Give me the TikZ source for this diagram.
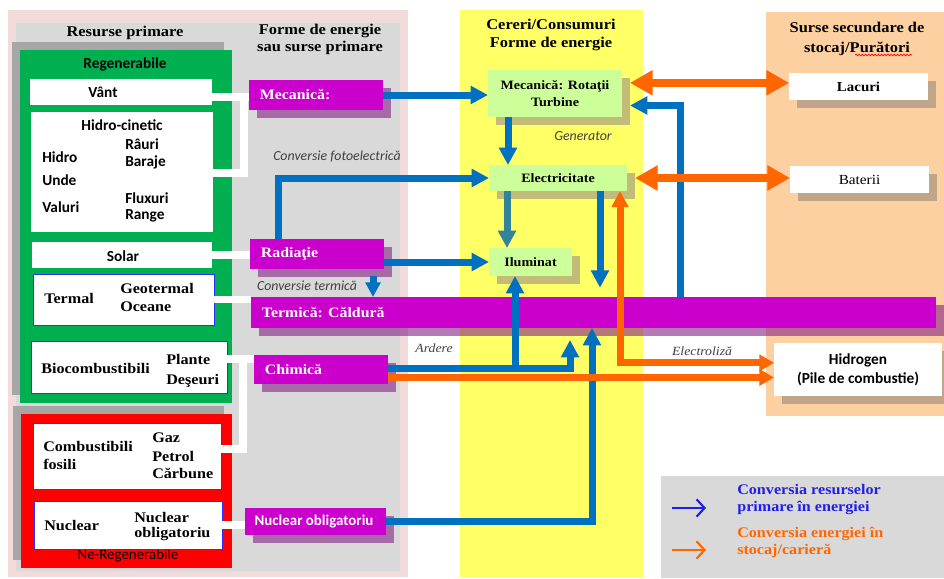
\documentclass[tikz,border=0pt]{standalone}
\usepackage{fontspec}
\setmainfont{Liberation Serif}[FakeStretch=1.1]
\newfontfamily\calibfont{Carlito}
\usetikzlibrary{arrows.meta,fit,shadows,decorations.pathmorphing}

\definecolor{bgpink}{HTML}{F2DCDB}
\definecolor{bggray}{HTML}{D9D9D9}
\definecolor{shgray}{HTML}{A6A6A6}
\definecolor{regen}{HTML}{00B050}
\definecolor{magbox}{HTML}{CC00CC}
\definecolor{shmag}{HTML}{842084}
\definecolor{consum}{HTML}{FFFF66}
\definecolor{lgreen}{HTML}{CCFF99}
\definecolor{sholive}{HTML}{C2BC78}
\definecolor{peach}{HTML}{FCD0A0}
\definecolor{shtan}{HTML}{BFA58A}
\definecolor{arrblue}{HTML}{0070C0}
\definecolor{arrteal}{HTML}{31849B}
\definecolor{arrorange}{HTML}{FF6600}
\definecolor{labgray}{HTML}{404040}
\definecolor{legblue}{HTML}{1F1FE8}
\definecolor{framebl}{HTML}{2E2EFF}

\begin{document}
\begin{tikzpicture}[x=0.75pt,y=-0.75pt,
    panel/.style={inner sep=0pt, outer sep=0pt},
    src/.style={panel, fill=white},
    srcframe/.style={src, draw=framebl, line width=0.7pt},
    form/.style={panel, fill=magbox, drop shadow={shadow xshift=6pt, shadow yshift=-6pt, fill=shmag, opacity=.6}},
    demand/.style={panel, fill=lgreen, drop shadow={shadow xshift=6pt, shadow yshift=-6pt, fill=sholive, opacity=1}},
    storebox/.style={panel, fill=white, drop shadow={shadow xshift=6pt, shadow yshift=-6pt, fill=shtan, opacity=1}},
    txt/.style={inner sep=0pt},
    head/.style={txt, align=center, font=\bfseries\fontsize{11.2}{13}\selectfont},
    demtxt/.style={txt, align=center, font=\bfseries\fontsize{9.6}{12.5}\selectfont},
    srb/.style={txt, font=\bfseries\fontsize{11}{13}\selectfont},
    cab/.style={txt, font=\calibfont\bfseries\fontsize{11.5}{14}\selectfont},
    formtxt/.style={txt, white, font=\bfseries\fontsize{10.8}{13}\selectfont},
    note/.style={txt, labgray, font=\calibfont\itshape\fontsize{10.4}{12}\selectfont},
    snote/.style={txt, labgray, font=\itshape\fontsize{9.4}{12}\selectfont},
    wline/.style={white, line width=5.5pt},
    flow/.style={arrblue, line width=5.25pt, -{Triangle[length=13pt,width=13pt]}},
    store/.style={arrorange, line width=6pt, {Triangle[length=17pt,width=18pt]}-{Triangle[length=17pt,width=18pt]}},
    split/.style={arrorange, line width=5.25pt, -{Triangle[length=11pt,width=12pt]}},
    splitboth/.style={arrorange, line width=5.25pt, {Triangle[length=12pt,width=12pt]}-{Triangle[length=11pt,width=12pt]}},
    legarrow/.style={line width=1.6pt, -{Straight Barb[length=6pt,width=13pt]}},
]
\useasboundingbox (0,0) rectangle (944,578);

% columns
\node[panel, fill=bgpink, fit={(8,10) (408,577)}] (colpink) {};
\node[panel, fill=bggray, fit={(16,23) (400,571)}] (colgray) {};
\node[panel, fill=consum, fit={(460,10) (643,577)}] (colcons) {};
\node[panel, fill=peach, fit={(766,12) (944,416)}] (colstore) {};
\node[panel, fill=bggray, fit={(661,476) (944,578)}] (legend) {};

\node[head] (hres) at (125,33) {Resurse primare};
\node[head, font=\bfseries\fontsize{11.2}{12.75}\selectfont] (hforme) at (320,39.5) {Forme de energie\\sau\ surse primare};
\node[head, font=\bfseries\fontsize{11.2}{13.5}\selectfont] (hcons) at (551,34.5) {Cereri/Consumuri\\Forme de energie};
\node[head, font=\bfseries\fontsize{11.2}{15}\selectfont] (hstore) at (857,38.5) {Surse secundare de\\stocaj/Purători};
\draw[red, line width=0.5pt, decorate, decoration={snake, amplitude=0.6pt, segment length=2.4pt}] (855,55) -- (912,55);

% primary resources
\node[panel, fill=regen, fit={(20,50) (232,403)}, drop shadow={shadow xshift=-6pt, shadow yshift=6pt, fill=shgray, opacity=1}] (regen) {};
\node[panel, fill=red, fit={(21,414) (232,568)}, drop shadow={shadow xshift=-6pt, shadow yshift=6pt, fill=shgray, opacity=1}] (neregen) {};
\node[cab] (tregen) at (125,64) {Regenerabile};
\node[txt, font=\calibfont\fontsize{11.2}{14}\selectfont] (tneregen) at (128,556) {Ne-Regenerabile};

\node[src, fit={(30,79) (212,105)}] (vant) {};
\node[src, fit={(31,112) (213,232)}] (hid) {};
\node[src, fit={(32,242) (212,268)}] (sol) {};
\node[srcframe, fit={(33,274) (214,325)}] (ter) {};
\node[srcframe, fit={(31,341) (227,393)}] (bio) {};
\node[srcframe, fit={(33,423) (221,489)}] (fos) {};
\node[srcframe, fit={(34,501) (222,549)}] (nuc) {};

\node[cab] (tvant) at (103,92) {Vânt};
\node[cab] (thid) at (122,125) {Hidro-cinetic};
\node[cab, anchor=west] (thidro) at (42,157) {Hidro};
\node[cab, anchor=west] (tunde) at (42,180) {Unde};
\node[cab, anchor=west] (tval) at (42,207) {Valuri};
\node[cab, anchor=west] (trau) at (125,144) {Râuri};
\node[cab, anchor=west] (tbar) at (125,162) {Baraje};
\node[cab, anchor=west] (tflux) at (125,198) {Fluxuri};
\node[cab, anchor=west] (trange) at (125,216) {Range};
\node[cab] (tsol) at (123,256) {Solar};
\node[srb, anchor=west] (tter) at (44,298) {Termal};
\node[srb, anchor=west] (tgeo) at (120,288) {Geotermal};
\node[srb, anchor=west] (toce) at (120,307) {Oceane};
\node[srb, anchor=west] (tbio) at (41,368) {Biocombustibili};
\node[srb, anchor=west] (tpla) at (166,359) {Plante};
\node[srb, anchor=west] (tdes) at (166,381) {Deşeuri};
\node[srb, anchor=west] (tcomb) at (43,446) {Combustibili};
\node[srb, anchor=west] (tfos) at (43,464) {fosili};
\node[srb, anchor=west] (tgaz) at (152,438) {Gaz};
\node[srb, anchor=west] (tpet) at (152,456) {Petrol};
\node[srb, anchor=west] (tcar) at (152,473) {Cărbune};
\node[srb, anchor=west] (tnuc) at (44,525) {Nuclear};
\node[srb, anchor=west] (tnuc2) at (134,517) {Nuclear};
\node[srb, anchor=west] (tobl) at (134,534) {obligatoriu};

% energy forms
\node[form, fit={(249,80) (383,110)}] (mec) {};
\node[form, fit={(250,239) (384,269)}] (rad) {};
\node[form, fit={(254,355) (388,384)}] (chim) {};
\node[form, fit={(245,508) (386,535)}] (nob) {};

\coordinate (jvant) at (244,97);
\coordinate (jhid) at (244,173);
\coordinate (jbio) at (243,359);
\coordinate (jfos) at (243,449);
\draw[wline] (vant.east |- jvant) -- (mec.west |- jvant);
\draw[wline] (jhid -| hid.east) -- (jhid) -- (jvant);
\draw[wline] (sol.east) -- (rad.west |- sol.east);
\draw[wline] (bio.east |- jbio) -- (chim.west |- jbio);
\draw[wline] (jfos -| fos.east) -- (jfos) -- (jbio);
\draw[wline] (nuc.east) -- (nob.west |- nuc.east);

\node[form, fit={(251,297) (936,328)}] (term) {};
\draw[wline] (ter.east) -- (term.west |- ter.east);

\node[formtxt, anchor=west] (tmec) at ([xshift=8pt]mec.west) {Mecanică:};
\node[formtxt, anchor=west] (trad) at ([xshift=8pt]rad.west) {Radiaţie};
\node[formtxt, anchor=west] (tterm) at ([xshift=8pt]term.west) {Termică: Căldură};
\node[formtxt, anchor=west] (tchim) at ([xshift=8pt]chim.west) {Chimică};
\node[formtxt, anchor=west, font=\calibfont\bfseries\fontsize{11.2}{13}\selectfont] (tnob) at ([xshift=7pt]nob.west) {Nuclear obligatoriu};

% demands and storage
\node[demand, fit={(488,70) (622,117)}] (rot) {};
\node[demand, fit={(489,165) (627,191)}] (elec) {};
\node[demand, fit={(489,248) (572,276)}] (ilum) {};
\node[demtxt] (trot) at (rot.center) {Mecanică: Rotaţii\\Turbine};
\node[demtxt] (telec) at (elec.center) {Electricitate};
\node[demtxt] (tilum) at (ilum.center) {Iluminat};

\node[storebox, fit={(789,73) (928,100)}] (lac) {};
\node[storebox, fit={(790,166) (929,193)}] (bat) {};
\node[storebox, fit={(774,343) (942,396)}] (hyd) {};
\node[txt, font=\bfseries\fontsize{10.2}{13}\selectfont] (tlac) at (lac.center) {Lacuri};
\node[txt, font=\fontsize{10.4}{13}\selectfont] (tbat) at (bat.center) {Baterii};
\node[txt, align=center, font=\calibfont\bfseries\fontsize{11.5}{14}\selectfont] (thyd) at (hyd.center) {Hidrogen\\(Pile de combustie)};

% blue conversions
\draw[flow] (mec.east) -- (mec.east -| rot.west);
\draw[flow] (rad.north -| 278,0) |- (elec.west);
\draw[flow] (ilum.west -| rad.east) -- (ilum.west);
\coordinate (ctherm) at (373,276);
\draw[flow, -{Triangle[length=11pt,width=11pt]}] (ctherm) -- (ctherm |- term.north);
\draw[flow] (rot.south -| 508,0) -- (elec.north -| 508,0);
\draw[flow, arrteal] (elec.south -| 507,0) -- (ilum.north -| 507,0);
\draw[flow, shorten >=7pt] (elec.south -| 600,0) -- (term.north -| 600,0);
\coordinate (jrot) at ([xshift=6pt,yshift=-9pt]rot.east);
\draw[flow] (term.north -| 680,0) |- (jrot);
\coordinate (jchim) at ([yshift=1pt]chim.east);
\draw[flow, shorten >=9pt] (jchim) -| (term.south -| 570,0);
\draw[flow] (jchim -| 515,0) -- (ilum.south -| 515,0);
\draw[flow] (nob.east) -| (term.south -| 592,0);

% orange storage
\coordinate (jlac) at ([xshift=6pt,yshift=8pt]rot.east);
\draw[store] (jlac) -- (jlac -| lac.west);
\draw[store] ([xshift=6pt]elec.east) -- (elec.east -| bat.west);
\coordinate (jhyd) at ([yshift=5pt]hyd.west);
\draw[splitboth] (elec.south -| 620,0) |- (jhyd);
\coordinate (jchim2) at ([yshift=-6pt]chim.east);
\draw[split] (jchim2) -- (jchim2 -| hyd.west);

% labels
\node[note] (lfoto) at (337,156) {Conversie fotoelectrică};
\node[note] (lterm) at (307,286) {Conversie termică};
\node[note] (lgen) at (583,136) {Generator};
\node[snote] (lard) at (434,348) {Ardere};
\node[snote] (lelec) at (702,351) {Electroliză};

% legend
\node[srb, legblue, anchor=west, align=left, font=\bfseries\fontsize{11}{12.75}\selectfont] (legb) at (737,499.5) {Conversia resurselor\\primare în energiei};
\node[srb, arrorange, anchor=west, align=left, font=\bfseries\fontsize{11}{12.75}\selectfont] (lego) at (737,542.5) {Conversia energiei în\\stocaj/carieră};
\coordinate (lb1) at (672,508);
\coordinate (lo1) at (672,550);
\draw[legarrow, legblue] (lb1) -- ++(34,0);
\draw[legarrow, arrorange] (lo1) -- ++(34,0);
\end{tikzpicture}
\end{document}
